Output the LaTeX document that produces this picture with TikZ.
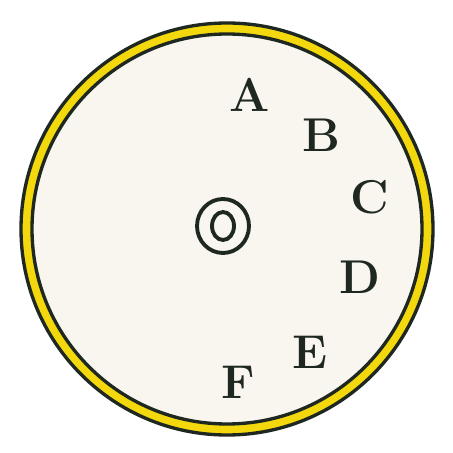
\documentclass[tikz,border=0pt]{standalone}
\usepackage{xcolor}
\usepackage{tikz}
\usetikzlibrary{positioning,shapes.geometric}
\definecolor{ink}{HTML}{1E2820}
\definecolor{rim}{HTML}{F4D80E}
\definecolor{paper}{HTML}{F8F6EE}

\begin{document}
\begin{tikzpicture}[
  x=0.02cm,
  y=0.02cm,
  edge/.style={draw=ink, line width=1.9pt},
  letter/.style={text=ink, font=\fontsize{27}{29}\selectfont\bfseries, inner sep=0pt},
  ring/.style={ellipse, draw=ink, line width=2.2pt, inner sep=0pt}
]
\useasboundingbox (0,0) rectangle (453,453);
\fill[rim] (227,224) circle (206);
\fill[paper] (227,224) circle (195);
\draw[edge] (227,224) circle (206);
\draw[edge] (227,224) circle (195);

\node[ring, minimum width=1.04cm, minimum height=1.08cm] (Oout) at (223,227) {};
\node[ring, minimum width=0.44cm, minimum height=0.56cm] (Oin) at (Oout.center) {};

\node[letter] (lblA) at (250,358) {A};
\node[letter] (lblB) at (321,318) {B};
\node[letter] (lblC) at (370,256) {C};
\node[letter] (lblD) at (360,176) {D};
\node[letter] (lblE) at (310,101) {E};
\node[letter] (lblF) at (238,71) {F};
\end{tikzpicture}
\end{document}
